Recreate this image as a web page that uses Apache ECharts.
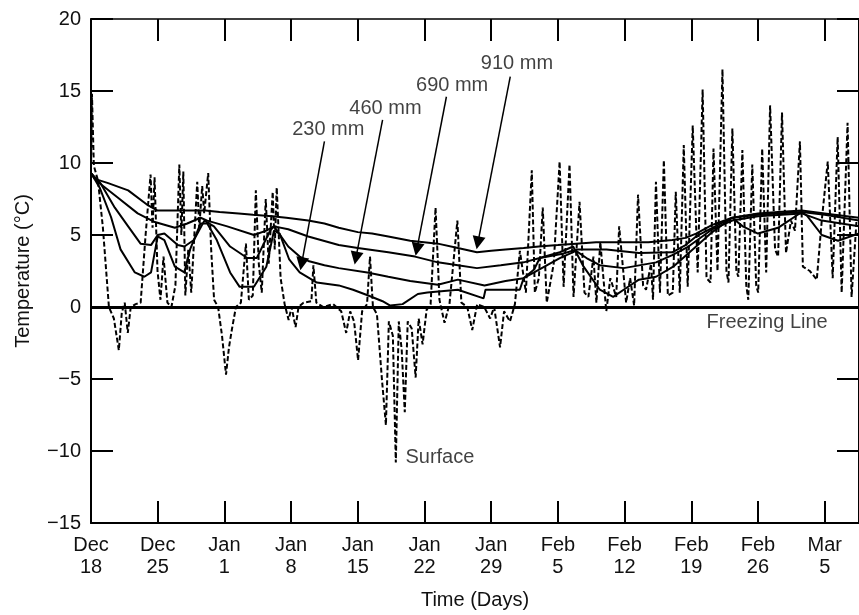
<!DOCTYPE html>
<html>
<head>
<meta charset="utf-8">
<script src="https://cdn.jsdelivr.net/npm/echarts@6/dist/echarts.min.js"></script>
<style>
html,body{margin:0;padding:0;background:#fff;}
#chart{width:859px;height:615px;}
</style>
</head>
<body>
<div id="chart"></div>
<script>
// Days counted from Dec 18; tick every 7 days
const tickLabels = ['Dec\n18','Dec\n25','Jan\n1','Jan\n8','Jan\n15','Jan\n22','Jan\n29','Feb\n5','Feb\n12','Feb\n19','Feb\n26','Mar\n5'];
const yTicks = [-15,-10,-5,0,5,10,15,20];

// [day, temperature °C]
const depth910 = [[0,9.3],[0.4,8.9],[1.8,8.6],[3.9,8.1],[5.9,7.1],[7,6.7],[10,6.7],[12,6.7],[13.5,6.6],[15.5,6.5],[17,6.4],[19,6.3],[20.5,6.2],[22.8,6.0],[24.5,5.8],[26,5.5],[28,5.2],[29.5,5.1],[31.2,4.9],[33.5,4.6],[36.4,4.4],[38.5,4.1],[40.5,3.8],[42,3.9],[43.5,4.0],[45.4,4.1],[47,4.2],[49,4.3],[50.9,4.4],[53,4.5],[55.8,4.5],[58.5,4.5],[61,4.65],[62.4,4.8],[63.5,5.1],[65.2,5.7],[67.3,6.2],[70,6.5],[72.1,6.6],[74.6,6.7],[77,6.5],[80.6,6.2]];
const depth690 = [[0,9.3],[0.7,8.7],[2.8,7.6],[4.9,6.5],[6.7,5.9],[8.8,5.5],[10.1,5.8],[11.5,6.2],[12.2,6.0],[14.3,5.6],[17.1,5.0],[18.4,5.3],[19.2,5.6],[20.7,5.4],[22.8,4.9],[26,4.3],[28,4.1],[31.2,3.8],[34,3.5],[36.4,3.1],[38.5,2.9],[40.5,2.7],[43,2.9],[45.4,3.1],[47.1,3.4],[49.5,3.7],[51,4.0],[54.1,4.0],[57.5,3.75],[61,3.8],[62.4,4.3],[63.5,4.9],[65.2,5.5],[67.3,6.2],[70,6.4],[72,6.5],[74.6,6.6],[77,6.4],[80.6,6.0]];
const depth460 = [[0,9.3],[1,8.6],[2.5,6.9],[3.9,5.6],[5.2,4.4],[6.3,4.3],[7,5.0],[7.7,5.1],[9.1,4.3],[9.8,4.2],[10.8,4.65],[11.9,6.0],[12.9,5.6],[14.6,4.2],[16.4,3.4],[17.4,3.4],[18.8,5.3],[19.2,5.6],[20.7,4.2],[21.9,3.5],[22.8,3.2],[24.5,2.9],[26,2.7],[29,2.4],[31.2,2.1],[33.5,1.8],[36.4,1.55],[38.5,1.9],[41.3,1.5],[43.5,1.8],[45.4,2.0],[46.5,2.4],[49.2,3.4],[50.9,3.9],[52,3.4],[53.4,2.9],[55.9,2.7],[59.3,3.1],[61,3.6],[62.7,4.2],[65.2,5.4],[67.3,6.0],[70,6.3],[74.6,6.5],[76.7,6.0],[80.6,5.6]];
const depth230 = [[0,9.3],[0.9,8.3],[2.1,6.25],[3.1,4.0],[4.6,2.4],[5.6,2.1],[6.3,2.4],[7,4.9],[7.7,4.65],[8.8,2.8],[9.8,2.4],[10.4,4.0],[11.5,5.8],[12.2,5.8],[13.2,4.65],[14.6,2.4],[15.6,1.4],[17.1,1.4],[18.4,2.8],[19.2,5.3],[19.8,5.1],[20.8,3.3],[21.9,2.4],[23.7,1.7],[26,1.5],[27.5,1.2],[29.1,0.8],[30.6,0.4],[31.4,0.1],[32.7,0.2],[34.3,0.9],[35.3,1.0],[38.5,1.2],[41.2,0.6],[41.4,1.2],[45,1.2],[45.4,2.0],[46.5,2.6],[47.1,3.4],[49.2,3.8],[50.6,4.2],[51.7,2.8],[53.4,1.2],[54.8,0.7],[55.9,1.2],[57.5,1.9],[59.3,2.1],[61.1,2.8],[63.5,4.2],[65.2,5.2],[67.3,6.2],[68.4,5.6],[70,5.1],[72.1,5.5],[74.6,6.6],[75.2,6.3],[76.7,5.0],[78.4,4.6],[80.6,5.1]];
const surface = [[0,9.5],[0.1,14.8],[0.3,9.8],[0.73,8.8],[1.25,5.5],[1.88,0],[2.4,-0.8],[2.92,-3.0],[3.23,-0.4],[3.54,0.3],[3.86,-1.8],[4.17,0],[4.69,0.2],[5.21,0.3],[5.73,5],[6.25,9.2],[6.46,5.5],[6.67,9.0],[6.98,2.5],[7.29,0.5],[7.61,3.5],[8.02,0.3],[8.44,0],[8.86,1.5],[9.27,9.9],[9.48,5],[9.69,9.4],[9.9,0.8],[10.21,4],[10.52,1],[11.15,8.7],[11.36,5.5],[11.67,8.4],[11.88,6.5],[12.3,9.3],[12.61,4],[12.92,0.5],[13.34,0],[13.75,-2],[14.17,-4.7],[14.48,-2.8],[14.8,-1.5],[15.21,0],[15.73,0.3],[16.26,4.4],[16.57,0.5],[16.98,0.8],[17.3,8.1],[17.61,3],[17.92,1],[18.34,7.5],[18.65,3],[19.07,8.0],[19.28,4],[19.49,8.3],[19.9,2],[20.32,0.2],[20.74,-0.9],[21.05,0],[21.47,-1.4],[21.78,0],[22.3,0.3],[23.13,0.4],[23.34,2.9],[23.65,0.3],[24.38,0],[25.42,0.2],[26.26,-0.3],[26.78,-1.8],[27.2,-0.3],[27.61,-1],[28.03,-3.7],[28.45,-0.3],[28.97,0.2],[29.28,3.5],[29.59,0],[30.01,-0.5],[30.53,-5],[30.95,-8.2],[31.26,-1],[31.68,-2],[31.99,-10.8],[32.3,-1],[32.61,-3],[32.93,-7.3],[33.24,-1],[33.66,-1.5],[34.07,-4.9],[34.39,-0.8],[34.8,-2.6],[35.22,-0.2],[35.64,0.2],[36.16,6.9],[36.57,0.5],[37.1,-1.1],[37.62,0.2],[38.45,6.0],[38.87,0.3],[39.49,0],[40.01,-1.6],[40.53,0.2],[41.26,0],[41.89,-0.8],[42.31,0],[42.93,-2.8],[43.35,-0.3],[43.97,-1],[44.49,0.2],[45.01,3.9],[45.64,1],[46.26,9.5],[46.58,1.0],[47.0,2],[47.41,6.9],[47.83,0.3],[48.56,3],[49.18,10.1],[49.6,1.4],[50.22,9.9],[50.64,0.7],[51.27,7.3],[51.79,1.0],[52.2,0.7],[52.73,3.5],[53.04,0.3],[53.45,4.5],[54.08,-0.3],[54.5,2],[55.12,0.7],[55.43,5.6],[56.16,0.3],[56.58,2],[57.0,0.1],[57.41,7.8],[57.94,1.5],[58.25,1.2],[58.77,3],[58.98,0.5],[59.29,8.7],[59.71,1],[60.12,10.2],[60.54,0.8],[61.06,1.0],[61.37,8.0],[61.79,1],[62.21,11.25],[62.62,1.4],[63.15,12.6],[63.67,2.4],[64.19,15.1],[64.6,2],[65.02,1.7],[65.33,11.0],[65.75,2.5],[66.27,16.5],[66.69,2.5],[66.9,1.7],[67.31,12.4],[67.73,2.5],[67.94,2.1],[68.36,10.9],[68.77,1.5],[68.98,0.5],[69.4,9.9],[69.81,1.5],[70.02,1.0],[70.44,11.0],[70.86,2.4],[71.27,14.0],[71.79,4],[72.11,3.5],[72.52,13.5],[72.94,3.75],[73.46,6],[73.88,5.3],[74.4,11.5],[74.71,2.8],[75.44,2.5],[76.17,1.9],[76.69,6],[77.32,10.1],[77.84,2],[78.36,11.8],[78.78,1.0],[79.4,12.8],[79.82,0.7],[80.34,6]];

// annotations: label text, label position, arrow start, arrow end (data coords)
const depthNotes = [
  {text:'230 mm', at:[24.9,12.3], from:[24.5,11.5], to:[22.1,3.0]},
  {text:'460 mm', at:[30.9,13.8], from:[30.6,13.0], to:[27.8,3.4]},
  {text:'690 mm', at:[37.9,15.4], from:[37.3,14.6], to:[34.2,4.0]},
  {text:'910 mm', at:[44.7,16.9], from:[44.0,16.0], to:[40.6,4.45]}
];
const surfaceNote = {text:'Surface', at:[33.0,-10.45]};
const freezeNote = {text:'Freezing Line', at:[64.6,-1.05]};

const FONT = '"Liberation Sans", Arial, Helvetica, sans-serif';
const chart = echarts.init(document.getElementById('chart'), null, {renderer:'canvas'});

function depthSeries(name, data){
  return {name, type:'line', data, symbol:'none', showSymbol:false, smooth:false,
    lineStyle:{color:'#000', width:2}, animation:false, z:3, silent:true};
}
const fmtY = v => v < 0 ? '\u2212' + Math.abs(v) : String(v);

const option = {
  animation:false,
  backgroundColor:'#fff',
  textStyle:{fontFamily:FONT},
  grid:{left:91, top:19, width:773.5, height:504, containLabel:false},
  xAxis:[{
    type:'value', position:'bottom', min:0, max:80.6, interval:7,
    axisLine:{show:true, onZero:false, lineStyle:{color:'#000', width:2}},
    axisTick:{show:true, inside:true, length:22, lineStyle:{color:'#000', width:2}},
    axisLabel:{show:true, margin:11, fontSize:20, lineHeight:22, color:'#111', fontFamily:FONT,
      showMaxLabel:false,
      formatter: v => { const i = Math.round(v/7); return (Math.abs(v - i*7) < 1e-6 && tickLabels[i]) ? tickLabels[i] : ''; }},
    splitLine:{show:false},
    name:'Time (Days)', nameLocation:'middle', nameGap:67,
    nameTextStyle:{fontSize:20, color:'#111', fontFamily:FONT}
  },{
    type:'value', position:'top', min:0, max:80.6, interval:7,
    axisLine:{show:true, onZero:false, lineStyle:{color:'#000', width:1.5}},
    axisTick:{show:true, inside:true, length:22, lineStyle:{color:'#000', width:2}},
    axisLabel:{show:false}, splitLine:{show:false}
  }],
  yAxis:[{
    type:'value', position:'left', min:yTicks[0], max:yTicks[yTicks.length-1], interval:5,
    axisLine:{show:true, onZero:false, lineStyle:{color:'#000', width:2}},
    axisTick:{show:true, inside:true, length:22, lineStyle:{color:'#000', width:2}},
    axisLabel:{show:true, margin:10, fontSize:20, color:'#111', fontFamily:FONT, formatter:fmtY},
    splitLine:{show:false},
    name:'Temperature (\u00B0C)', nameLocation:'middle', nameGap:58, nameRotate:90,
    nameTextStyle:{fontSize:20, color:'#111', fontFamily:FONT}
  },{
    type:'value', position:'right', min:yTicks[0], max:yTicks[yTicks.length-1], interval:5,
    axisLine:{show:true, onZero:false, lineStyle:{color:'#000', width:2}},
    axisTick:{show:true, inside:true, length:22, lineStyle:{color:'#000', width:2}},
    axisLabel:{show:false}, splitLine:{show:false}
  }],
  series:[
    {name:'Surface', type:'line', data:surface, symbol:'none', showSymbol:false, smooth:false,
      lineStyle:{color:'#000', width:2, type:[5,2.5]}, z:2, silent:true,
      markLine:{silent:true, symbol:['none','none'], animation:false,
        lineStyle:{color:'#000', width:3, type:'solid'}, label:{show:false},
        data:[{yAxis:0}]}
    },
    depthSeries('230 mm', depth230),
    depthSeries('460 mm', depth460),
    depthSeries('690 mm', depth690),
    depthSeries('910 mm', depth910),
    {name:'notes', type:'scatter', symbolSize:0, silent:true, z:5,
      data: depthNotes.map(n => ({value:n.at, name:n.text}))
        .concat([{value:surfaceNote.at, name:surfaceNote.text, label:{align:'left'}},
                 {value:freezeNote.at, name:freezeNote.text, label:{align:'left', fontSize:20}}]),
      label:{show:true, position:[0,0], align:'center', verticalAlign:'middle',
        formatter:p => p.name, fontSize:20, color:'#111', fontFamily:FONT},
      markLine:{silent:true, animation:false, symbol:['none','triangle'], symbolSize:13,
        lineStyle:{color:'#000', width:1.5, type:'solid'}, label:{show:false},
        data: depthNotes.map(n => [{coord:n.from}, {coord:n.to}])}
    }
  ]
};
chart.setOption(option);
</script>
</body>
</html>
